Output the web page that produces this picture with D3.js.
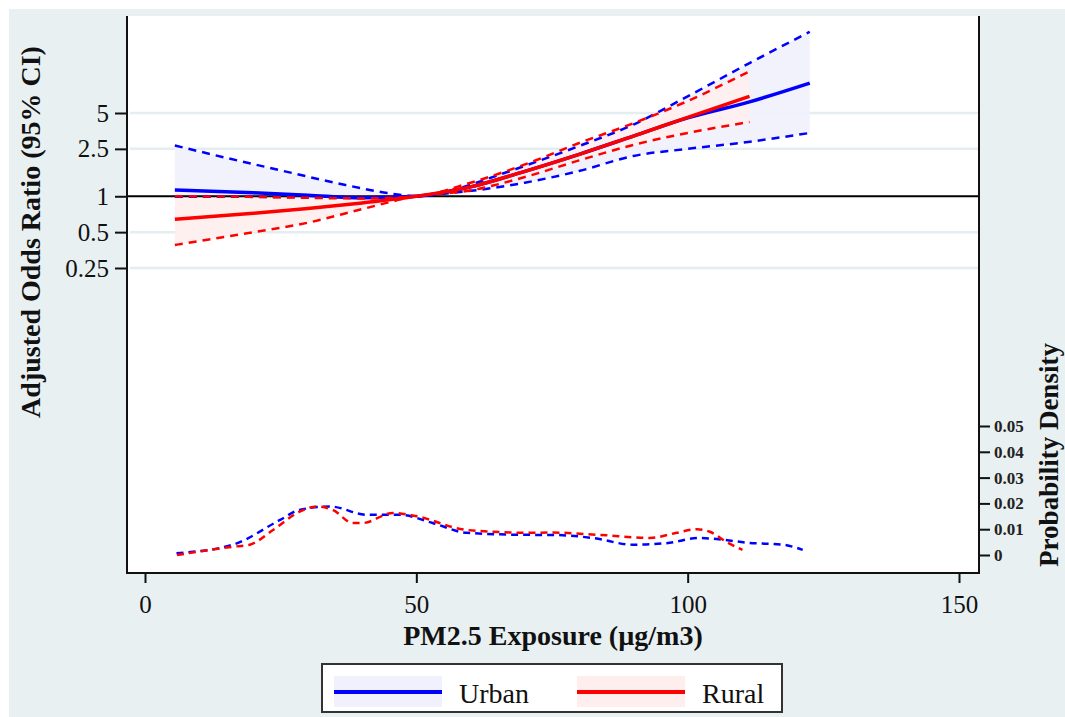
<!DOCTYPE html>
<html>
<head>
<meta charset="utf-8">
<script src="https://cdn.jsdelivr.net/npm/d3@7"></script>
<style>
  body { margin: 0; background: #ffffff; }
  svg { display: block; font-family: "Liberation Serif", "Times New Roman", serif; }
</style>
</head>
<body>
<svg id="chart"></svg>
<script>
// Odds ratio curves (PM2.5 value, estimate)
const urbanX   = [5.5, 20, 30, 40, 50, 60, 70, 80, 90, 100, 111.4, 122.5];
const urbanOR  = [1.13, 1.07, 1.02, 0.97, 1.0, 1.2, 1.62, 2.25, 3.2, 4.55, 6.2, 8.9];
const urbanCIx = [5.5, 15, 25, 35, 45, 50, 55, 65, 70, 80, 90, 100, 111.5, 122.5];
const urbanHi  = [2.67, 2.1, 1.65, 1.3, 1.06, 1.0, 1.08, 1.5, 1.8, 2.64, 4.0, 6.9, 13.2, 24];
const urbanLo  = [0.99, 0.99, 0.985, 0.98, 0.975, 1.0, 1.05, 1.19, 1.3, 1.63, 2.18, 2.5, 2.87, 3.4];

const ruralX   = [5.5, 20, 30, 40, 50, 60, 70, 80, 90, 100, 111.4];
const ruralOR  = [0.64, 0.72, 0.79, 0.88, 1.0, 1.2, 1.62, 2.25, 3.2, 4.6, 6.9];
const ruralHi  = [1.0, 0.99, 0.97, 0.96, 1.0, 1.3, 1.85, 2.8, 4.1, 6.3, 11.2];
const ruralLo  = [0.39, 0.5, 0.6, 0.78, 1.0, 1.12, 1.45, 2.0, 2.7, 3.4, 4.2];

// Kernel density of exposure
const urbanDx = [5.8, 16.2, 24.9, 28.5, 34.1, 40.9, 47, 53, 59.3, 71.5, 74.6, 82.5, 89.9, 96.1, 102.2, 105.3, 111.4, 117.5, 121.2];
const urbanD  = [0.0007, 0.004, 0.0136, 0.0175, 0.0188, 0.0156, 0.0156, 0.0124, 0.0086, 0.0078, 0.0078, 0.0066, 0.004, 0.0046, 0.0066, 0.0062, 0.0047, 0.004, 0.002];
const ruralDx = [5.9, 16.2, 19.3, 23.6, 28.5, 31.7, 34.6, 38.3, 40.1, 45.7, 50.1, 59.3, 71.5, 74.6, 83.8, 93, 98, 101.7, 104.1, 107.2, 110.1];
const ruralD  = [0, 0.0032, 0.004, 0.0097, 0.0168, 0.0188, 0.0175, 0.0124, 0.0124, 0.0163, 0.015, 0.0097, 0.0086, 0.0087, 0.0078, 0.0066, 0.0086, 0.010, 0.009, 0.005, 0.002];

const xTicks = [0, 50, 100, 150];
const orTicks = [0.25, 0.5, 1, 2.5, 5];
const densTicks = [0, 0.01, 0.02, 0.03, 0.04, 0.05];
const groups = ["Urban", "Rural"];
const colors = ["#0000ff", "#ff0000"];
const bands = ["#f1f1fd", "#ffeeee"];

const W = 1065, H = 717;
const plot = { left: 127, right: 979, top: 16, bottom: 573 };
const serif = "Liberation Serif, Times New Roman, serif";

const svg = d3.select("#chart").attr("width", W).attr("height", H);

// background
svg.append("rect").attr("x", 9).attr("y", 9).attr("width", W - 9).attr("height", H - 9).attr("fill", "#e8f0f2");
svg.append("rect")
  .attr("x", plot.left).attr("y", plot.top)
  .attr("width", plot.right - plot.left).attr("height", plot.bottom - plot.top)
  .attr("fill", "#ffffff");

// scales
const x = d3.scaleLinear().domain([0, 150]).range([145, 959]);
const y = d3.scaleLog().base(2).domain([0.25, 5]).range([268, 113]);
const yD = d3.scaleLinear().domain([0, 0.05]).range([555, 426]);

// gridlines
svg.append("g").selectAll("line")
  .data(orTicks.filter(d => d !== 1))
  .enter().append("line")
  .attr("x1", plot.left + 3).attr("x2", plot.right - 1)
  .attr("y1", d => y(d)).attr("y2", d => y(d))
  .attr("stroke", "#e4eef0").attr("stroke-width", 2.5);

const zip = (xs, ys) => xs.map((v, i) => [v, ys[i]]);
const line = d3.line().x(d => x(d[0])).y(d => y(d[1])).curve(d3.curveMonotoneX);
const area = d3.area().x(d => x(d[0])).y0(d => y(d[1])).y1(d => y(d[2])).curve(d3.curveMonotoneX);
const dline = d3.line().x(d => x(d[0])).y(d => yD(d[1])).curve(d3.curveMonotoneX);

const series = [
  { ci: urbanCIx.map((v, i) => [v, urbanLo[i], urbanHi[i]]), lo: zip(urbanCIx, urbanLo), hi: zip(urbanCIx, urbanHi), est: zip(urbanX, urbanOR), dens: zip(urbanDx, urbanD) },
  { ci: ruralX.map((v, i) => [v, ruralLo[i], ruralHi[i]]), lo: zip(ruralX, ruralLo), hi: zip(ruralX, ruralHi), est: zip(ruralX, ruralOR), dens: zip(ruralDx, ruralD) }
];

// confidence bands
series.forEach((s, i) => {
  svg.append("path").attr("d", area(s.ci)).attr("fill", bands[i]).attr("opacity", 0.9);
});

// reference line at OR = 1
svg.append("line")
  .attr("x1", plot.left).attr("x2", plot.right)
  .attr("y1", y(1)).attr("y2", y(1))
  .attr("stroke", "#000").attr("stroke-width", 2);

// estimates and CI bounds
series.forEach((s, i) => {
  [s.lo, s.hi].forEach(b => {
    svg.append("path").attr("d", line(b)).attr("fill", "none")
      .attr("stroke", colors[i]).attr("stroke-width", 2.5).attr("stroke-dasharray", "8,6");
  });
  svg.append("path").attr("d", line(s.est)).attr("fill", "none")
    .attr("stroke", colors[i]).attr("stroke-width", 3.5);
});

// densities
series.forEach((s, i) => {
  svg.append("path").attr("d", dline(s.dens)).attr("fill", "none")
    .attr("stroke", colors[i]).attr("stroke-width", 2.5).attr("stroke-dasharray", "7,5");
});

// frame
svg.append("path")
  .attr("d", `M${plot.left},${plot.top}V${plot.bottom}H${plot.right}V${plot.top}`)
  .attr("fill", "none").attr("stroke", "#111").attr("stroke-width", 2);

// axes
svg.append("g") // left axis
  .attr("transform", `translate(${plot.left},0)`)
  .call(d3.axisLeft(y).tickValues(orTicks).tickFormat(d => d).tickSize(12).tickPadding(6))
  .call(g => g.select(".domain").remove())
  .call(g => g.selectAll("line").attr("stroke", "#111").attr("stroke-width", 2))
  .call(g => g.selectAll("text").attr("font-size", 25).attr("font-family", serif).attr("fill", "#111"));

svg.append("g") // x axis
  .attr("transform", `translate(0,${plot.bottom})`)
  .call(d3.axisBottom(x).tickValues(xTicks).tickSize(10).tickPadding(12))
  .call(g => g.select(".domain").remove())
  .call(g => g.selectAll("line").attr("stroke", "#111").attr("stroke-width", 2))
  .call(g => g.selectAll("text").attr("font-size", 25).attr("font-family", serif).attr("fill", "#111"));

svg.append("g") // density axis
  .attr("transform", `translate(${plot.right},0)`)
  .call(d3.axisRight(yD).tickValues(densTicks).tickFormat(d => d).tickSize(11).tickPadding(4))
  .call(g => g.select(".domain").remove())
  .call(g => g.selectAll("line").attr("stroke", "#111").attr("stroke-width", 2))
  .call(g => g.selectAll("text").attr("font-size", 17).attr("font-weight", "bold").attr("font-family", serif).attr("fill", "#222"));

// titles
svg.append("text")
  .attr("transform", "translate(40,232) rotate(-90)")
  .attr("text-anchor", "middle").attr("font-family", serif).attr("font-size", 28).attr("font-weight", "bold").attr("fill", "#111")
  .text("Adjusted Odds Ratio (95% CI)");

svg.append("text")
  .attr("transform", "translate(1058,455) rotate(-90)")
  .attr("text-anchor", "middle").attr("font-family", serif).attr("font-size", 27).attr("font-weight", "bold").attr("fill", "#111")
  .text("Probability Density");

svg.append("text")
  .attr("x", 553).attr("y", 645)
  .attr("text-anchor", "middle").attr("font-family", serif).attr("font-size", 28).attr("font-weight", "bold").attr("fill", "#111")
  .text("PM2.5 Exposure (µg/m3)");

// legend
const legend = svg.append("g");
legend.append("rect")
  .attr("x", 322).attr("y", 664).attr("width", 460).attr("height", 48)
  .attr("fill", "#fff").attr("stroke", "#333").attr("stroke-width", 2);

const item = legend.selectAll(".item")
  .data(groups)
  .enter().append("g")
  .attr("class", "item")
  .attr("transform", (d, i) => `translate(${334 + i * 243},0)`);

item.append("rect")
  .attr("x", 0).attr("y", 676).attr("width", 108).attr("height", 31)
  .attr("fill", (d, i) => bands[i]);
item.append("line")
  .attr("x1", 0).attr("x2", 108).attr("y1", 692).attr("y2", 692)
  .attr("stroke", (d, i) => colors[i]).attr("stroke-width", 4);
item.append("text")
  .attr("x", 125).attr("y", 703)
  .attr("font-family", serif).attr("font-size", 28).attr("fill", "#111")
  .text(d => d);
</script>
</body>
</html>
